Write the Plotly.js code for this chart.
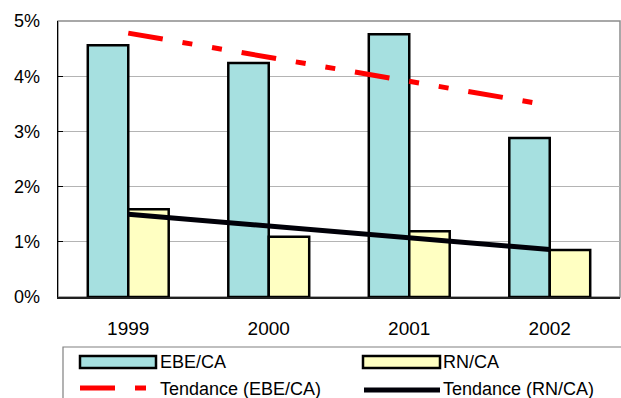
<!DOCTYPE html>
<html>
<head>
<meta charset="utf-8">
<script src="https://cdn.plot.ly/plotly-3.0.1.min.js"></script>
<style>
  html, body { margin: 0; padding: 0; background: #ffffff; }
  #chart { width: 621px; height: 398px; }
</style>
</head>
<body>
<div id="chart"></div>
<script>
// Years on the category axis
const years = ['1999', '2000', '2001', '2002'];

// Ratios in percent
const ebeCa = [4.56, 4.24, 4.76, 2.88];
const rnCa = [1.59, 1.09, 1.19, 0.85];

// Linear trend values at each year
const trendEbeCa = [4.78, 4.34, 3.90, 3.47];
const trendRnCa = [1.50, 1.28, 1.07, 0.86];

// Legend labels
const legendLabels = ['EBE/CA', 'RN/CA', 'Tendance (EBE/CA)', 'Tendance (RN/CA)'];

const FONT = 'Liberation Sans, Arial, sans-serif';
const W = 621, H = 398;
const M = { l: 58, r: 1, t: 21, b: 101 };
const plotW = W - M.l - M.r;
const plotH = H - M.t - M.b;

// pixel -> paper coordinates for the hand-made legend
const px = v => (v - M.l) / plotW;
const py = v => (H - M.b - v) / plotH;

const traces = [
  {
    type: 'bar', x: years, y: ebeCa, name: legendLabels[0],
    marker: { color: '#A6E0E0', line: { color: '#000000', width: 2.5 } },
    hoverinfo: 'skip'
  },
  {
    type: 'bar', x: years, y: rnCa, name: legendLabels[1],
    marker: { color: '#FFFFC2', line: { color: '#000000', width: 2.5 } },
    hoverinfo: 'skip'
  },
  {
    type: 'scatter', mode: 'lines', x: years, y: trendEbeCa, name: legendLabels[2],
    line: { color: '#FF0000', width: 5, dash: '35px,20px,10px,20px,10px,20px' },
    hoverinfo: 'skip'
  },
  {
    type: 'scatter', mode: 'lines', x: years, y: trendRnCa, name: legendLabels[3],
    line: { color: '#000008', width: 5 },
    hoverinfo: 'skip'
  }
];

const shapes = [
  // plot-area frame
  { type: 'rect', xref: 'paper', yref: 'paper', x0: 0, x1: 1, y0: 0, y1: 1,
    line: { color: '#8C8C8C', width: 1.5 }, layer: 'below' },
  // legend frame
  { type: 'rect', xref: 'paper', yref: 'paper', x0: px(63), x1: px(640), y0: py(347), y1: py(420),
    line: { color: '#808080', width: 1.2 } },
  // EBE/CA swatch
  { type: 'rect', xref: 'paper', yref: 'paper', x0: px(80), x1: px(156), y0: py(368), y1: py(356),
    fillcolor: '#A6E0E0', line: { color: '#000000', width: 2.5 } },
  // RN/CA swatch
  { type: 'rect', xref: 'paper', yref: 'paper', x0: px(363), x1: px(440), y0: py(368), y1: py(356),
    fillcolor: '#FFFFC2', line: { color: '#000000', width: 2.5 } },
  // Tendance (EBE/CA) swatch: long dash + short dash
  { type: 'line', xref: 'paper', yref: 'paper', x0: px(80), x1: px(115), y0: py(388), y1: py(388),
    line: { color: '#FF0000', width: 5 } },
  { type: 'line', xref: 'paper', yref: 'paper', x0: px(135), x1: px(146), y0: py(388), y1: py(388),
    line: { color: '#FF0000', width: 5 } },
  // Tendance (RN/CA) swatch
  { type: 'line', xref: 'paper', yref: 'paper', x0: px(364), x1: px(440), y0: py(390), y1: py(390),
    line: { color: '#000008', width: 5 } }
];

const legendText = (text, x, y) => ({
  xref: 'paper', yref: 'paper', x: px(x), y: py(y), text: text,
  xanchor: 'left', yanchor: 'middle', showarrow: false,
  font: { family: FONT, size: 18, color: '#000000' }
});

const annotations = [
  legendText(legendLabels[0], 158, 362),
  legendText(legendLabels[1], 441, 362),
  legendText(legendLabels[2], 158, 389),
  legendText(legendLabels[3], 441, 389)
];

const layout = {
  width: W, height: H,
  margin: M,
  paper_bgcolor: '#ffffff', plot_bgcolor: '#ffffff',
  showlegend: false,
  barmode: 'group', bargap: 0.424, bargroupgap: 0,
  font: { family: FONT, color: '#000000' },
  xaxis: {
    type: 'category',
    showline: true, linecolor: '#202020', linewidth: 1.5,
    showgrid: false, ticks: '', zeroline: false,
    tickfont: { family: FONT, size: 19, color: '#000000' },
    ticklabelstandoff: 14
  },
  yaxis: {
    range: [0, 5], dtick: 1, ticksuffix: '%',
    showline: true, linecolor: '#000000', linewidth: 1.5,
    ticks: 'inside', ticklen: 5, tickcolor: '#000000', tickwidth: 1,
    showgrid: true, gridcolor: '#B4B4B4', gridwidth: 1,
    zeroline: false,
    tickfont: { family: FONT, size: 18, color: '#000000' },
    ticklabelstandoff: 13
  },
  shapes: shapes,
  annotations: annotations
};

Plotly.newPlot('chart', traces, layout, { displayModeBar: false, staticPlot: true });
</script>
</body>
</html>
